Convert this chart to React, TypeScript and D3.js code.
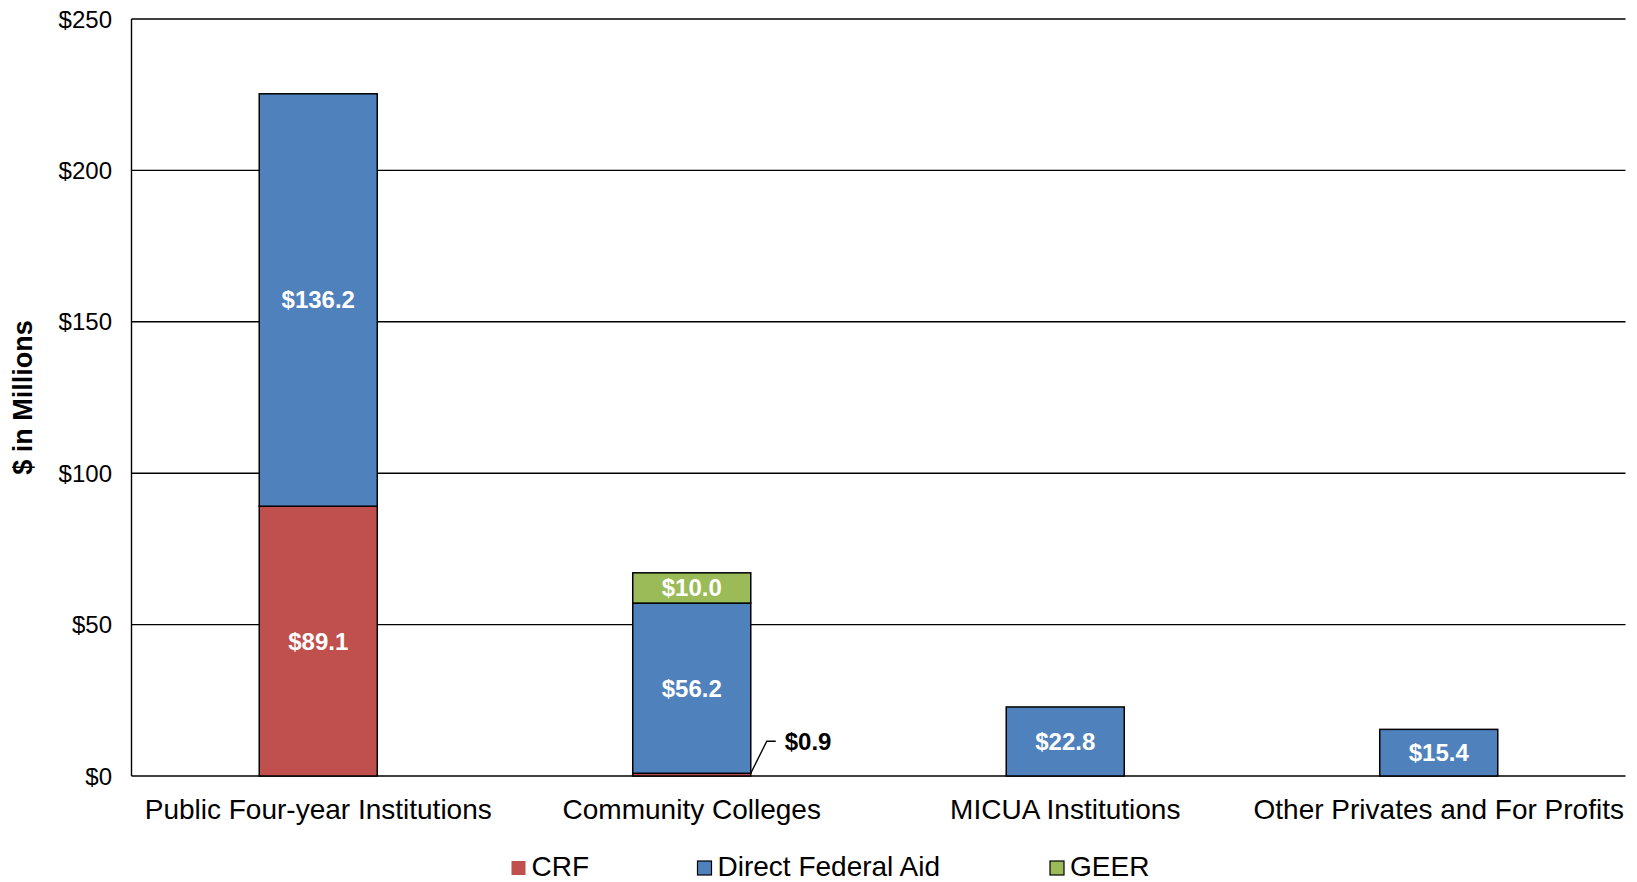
import React from "react";
import * as d3 from "d3";

const categories = [
  "Public Four-year Institutions",
  "Community Colleges",
  "MICUA Institutions",
  "Other Privates and For Profits",
];
const seriesNames = ["CRF", "Direct Federal Aid", "GEER"];
const crf = [89.1, 0.9, 0, 0];
const directFederalAid = [136.2, 56.2, 22.8, 15.4];
const geer = [0, 10.0, 0, 0];
const yTicks = [0, 50, 100, 150, 200, 250];
const colors = ["#C0504D", "#4F81BD", "#9BBB59"];

const W = 1637;
const H = 882;
const M = { left: 131.5, right: 1625.5, top: 19, bottom: 776 };
const FONT = "'Liberation Sans', Arial, sans-serif";

export default function App() {
  const rows = categories.map((c, i) => ({
    cat: c,
    CRF: crf[i],
    "Direct Federal Aid": directFederalAid[i],
    GEER: geer[i],
  }));
  const stack = d3.stack<any>().keys(seriesNames)(rows);
  const x = d3
    .scaleBand()
    .domain(categories)
    .range([M.left, M.right])
    .paddingInner(0.684)
    .paddingOuter(0.342);
  const y = d3.scaleLinear().domain([0, 250]).range([M.bottom, M.top]);
  const fmt = (v: number) => "$" + d3.format(".1f")(v);

  return (
    <svg
      width={W}
      height={H}
      style={{ position: "absolute", left: 0, top: 0, background: "#fff" }}
      fontFamily={FONT}
    >
      {/* gridlines */}
      {yTicks.map((t) => (
        <g key={t}>
          <line
            x1={M.left}
            x2={M.right}
            y1={y(t)}
            y2={y(t)}
            stroke="#000"
            strokeWidth={1.4}
          />
          <text
            x={112}
            y={y(t)}
            textAnchor="end"
            dominantBaseline="central"
            fontSize={24}
            fill="#000"
          >
            {"$" + t}
          </text>
        </g>
      ))}
      <line
        x1={M.left}
        x2={M.left}
        y1={M.top}
        y2={M.bottom}
        stroke="#000"
        strokeWidth={1.4}
      />
      {/* bars */}
      {stack.map((s, si) =>
        s.map((d, i) => {
          const v = d[1] - d[0];
          if (v <= 0) return null;
          return (
            <rect
              key={si + "-" + i}
              x={x(categories[i])!}
              width={x.bandwidth()}
              y={y(d[1])}
              height={y(d[0]) - y(d[1])}
              fill={colors[si]}
              stroke="#000"
              strokeWidth={1.5}
            />
          );
        })
      )}
      {/* labels */}
      {stack.map((s, si) =>
        s.map((d, i) => {
          const v = d[1] - d[0];
          if (v <= 0) return null;
          const cx = x(categories[i])! + x.bandwidth() / 2;
          if (v < 3) {
            const bx = x(categories[i])! + x.bandwidth();
            const by = y(d[1]);
            const ly = y(d[1]) - 32;
            return (
              <g key={"l" + si + "-" + i}>
                <polyline
                  points={`${bx},${by} ${bx + 16},${ly} ${bx + 25},${ly}`}
                  fill="none"
                  stroke="#000"
                  strokeWidth={1.4}
                />
                <text
                  x={bx + 34}
                  y={ly}
                  dominantBaseline="central"
                  fontSize={24}
                  fontWeight="bold"
                  fill="#000"
                >
                  {fmt(v)}
                </text>
              </g>
            );
          }
          return (
            <text
              key={"l" + si + "-" + i}
              x={cx}
              y={y((d[0] + d[1]) / 2)}
              textAnchor="middle"
              dominantBaseline="central"
              fontSize={24}
              fontWeight="bold"
              fill="#fff"
            >
              {fmt(v)}
            </text>
          );
        })
      )}
      {/* category labels */}
      {categories.map((c) => (
        <text
          key={c}
          x={x(c)! + x.bandwidth() / 2}
          y={809}
          textAnchor="middle"
          dominantBaseline="central"
          fontSize={28}
          fill="#000"
        >
          {c}
        </text>
      ))}
      {/* y axis title */}
      <text
        transform={`translate(23, ${(M.top + M.bottom) / 2}) rotate(-90)`}
        textAnchor="middle"
        dominantBaseline="central"
        fontSize={27}
        fontWeight="bold"
        fill="#000"
      >
        $ in Millions
      </text>
      {/* legend */}
      {seriesNames.map((n, i) => {
        const lx = [511.5, 697.5, 1050][i];
        return (
          <g key={n}>
            <rect
              x={lx}
              y={861}
              width={14}
              height={14}
              fill={colors[i]}
              stroke={i === 0 ? "none" : "#000"}
              strokeWidth={1.2}
            />
            <text
              x={lx + 20}
              y={866}
              dominantBaseline="central"
              fontSize={28}
              fill="#000"
            >
              {n}
            </text>
          </g>
        );
      })}
    </svg>
  );
}
